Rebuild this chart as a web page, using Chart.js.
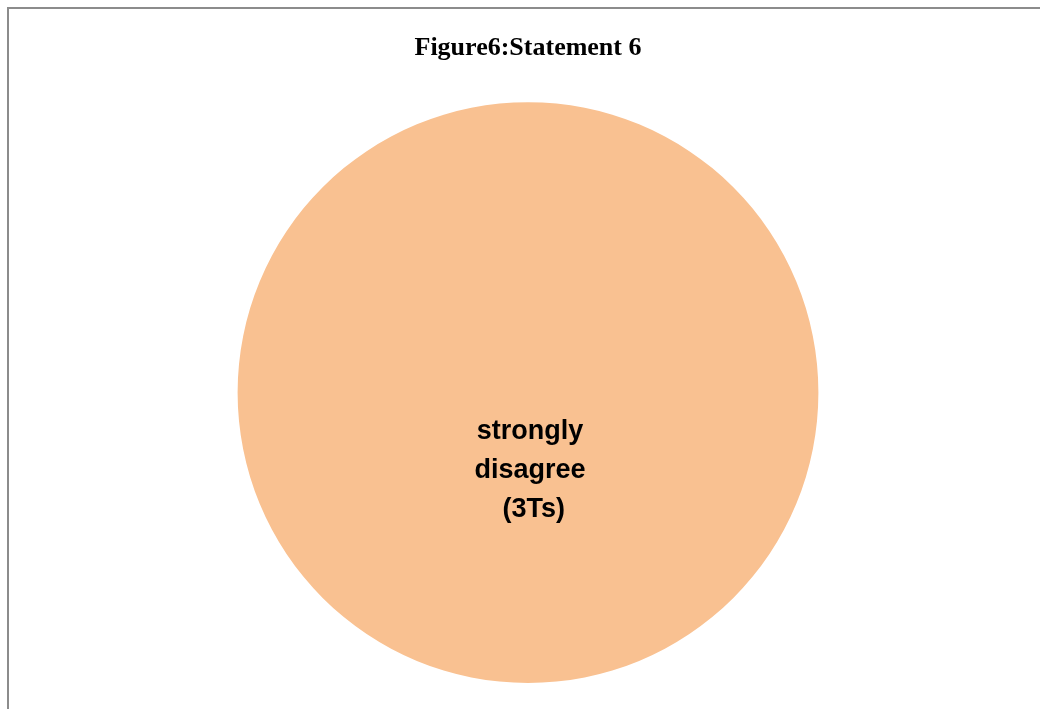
<!DOCTYPE html>
<html>
<head>
<meta charset="utf-8">
<script src="https://cdn.jsdelivr.net/npm/chart.js@4/dist/chart.umd.min.js"></script>
<style>
    html, body { margin: 0; padding: 0; background: #fff; overflow: hidden; }
    .frame {
        position: absolute; left: 7px; top: 7px; width: 1100px; height: 800px;
        border-left: 2px solid #8c8c8c; border-top: 2px solid #8c8c8c;
    }
    .wrap { position: absolute; left: 0; top: 0; width: 1040px; height: 709px; }
</style>
</head>
<body>
<div class="frame"></div>
<div class="wrap"><canvas id="chart"></canvas></div>
<script>
const categories = ['strongly disagree'];
const teachers = [3];
const sliceColors = ['#F9C191'];

// writes the category name and count near the middle of each slice
const sliceLabels = {
    id: 'sliceLabels',
    afterDatasetsDraw(chart) {
        const ctx = chart.ctx;
        const meta = chart.getDatasetMeta(0);
        meta.data.forEach((arc, i) => {
            const p = arc.getProps(['x', 'y', 'startAngle', 'endAngle', 'outerRadius']);
            const mid = (p.startAngle + p.endAngle) / 2;
            const cx = p.x + Math.cos(mid) * p.outerRadius * 0.265;
            const cy = p.y + Math.sin(mid) * p.outerRadius * 0.265;
            const lines = categories[i].split(' ').concat([' (' + teachers[i] + 'Ts)']);
            const lh = 39;
            ctx.save();
            ctx.fillStyle = '#000';
            ctx.font = 'bold 27px "Liberation Sans", Arial, sans-serif';
            ctx.textAlign = 'center';
            ctx.textBaseline = 'middle';
            lines.forEach((t, k) => {
                ctx.fillText(t, cx + 2, cy + 1 + (k - (lines.length - 1) / 2) * lh);
            });
            ctx.restore();
        });
    },
};

new Chart(document.getElementById('chart'), {
    type: 'pie',
    data: {
        labels: categories,
        datasets: [{
            data: teachers,
            backgroundColor: sliceColors,
            borderWidth: 0,
            hoverOffset: 0,
        }],
    },
    options: {
        responsive: true,
        maintainAspectRatio: false,
        animation: false,
        layout: {
            padding: { left: 16, right: 0, top: 0, bottom: 26 },
        },
        plugins: {
            legend: { display: false },
            tooltip: { enabled: false },
            title: {
                display: true,
                text: 'Figure6:Statement 6',
                color: '#000',
                font: { family: '"Liberation Serif", "DejaVu Serif", serif', size: 26, weight: 'bold' },
                padding: { top: 33, bottom: 38 },
            },
        },
    },
    plugins: [sliceLabels],
});
</script>
</body>
</html>
